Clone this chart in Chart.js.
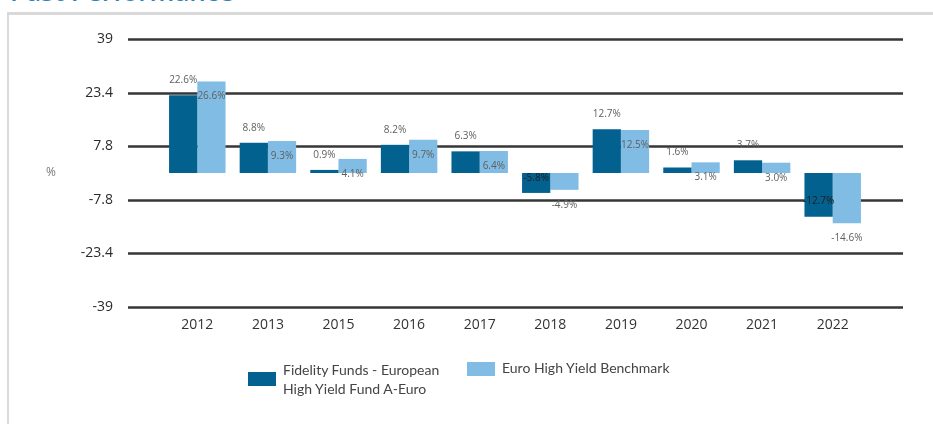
<!DOCTYPE html>
<html>
<head>
<meta charset="utf-8">
<script src="https://cdn.jsdelivr.net/npm/chart.js@4.4.0/dist/chart.umd.min.js"></script>
<style>
    html, body { margin: 0; padding: 0; background: #fff; }
    #wrap { position: relative; width: 933px; height: 424px; overflow: hidden; }
    #judul { position: absolute; left: 10px; top: -22px; font: 600 26px "Open Sans", sans-serif; color: #2a82bd; line-height: 26px; }
    #panel { position: absolute; left: 7px; top: 12px; right: 0; bottom: 0; border-top: 3px solid #d9d9d9; border-left: 2px solid #d9d9d9; }
    #persen { position: absolute; left: 46px; top: 163px; font: 12px "Open Sans", sans-serif; color: #777; }
    #legenda { position: absolute; top: 0; left: 0; font: 14px "Lato", sans-serif; color: #444; }
    .item { position: absolute; display: flex; align-items: center; }
    .kotak { width: 28px; height: 14px; margin-right: 7px; flex: none; }
    .teks { line-height: 19px; flex: none; }
</style>
</head>
<body>
<div id="wrap">
    <div id="judul">Past Performance</div>
    <div id="panel"></div>
    <canvas id="grafik" width="933" height="424" style="position:absolute;left:0;top:0;"></canvas>
    <div id="persen">%</div>
    <div id="legenda"></div>
</div>
<script>
// ======= Data =======
const tahun = ['2012', '2013', '2015', '2016', '2017', '2018', '2019', '2020', '2021', '2022'];
const nilaiFund = [22.6, 8.8, 0.9, 8.2, 6.3, -5.8, 12.7, 1.6, 3.7, -12.7];
const nilaiBenchmark = [26.6, 9.3, 4.1, 9.7, 6.4, -4.9, 12.5, 3.1, 3.0, -14.6];
const tickY = [-39, -23.4, -7.8, 7.8, 23.4, 39];

const namaFund = 'Fidelity Funds - European High Yield Fund A-Euro';
const namaBenchmark = 'Euro High Yield Benchmark';
const warnaFund = '#03618f';
const warnaBenchmark = '#80bce3';

// ======= Garis grid lebar (melewati area chart) =======
const gridPlugin = {
    id: 'gridLebar',
    beforeDatasetsDraw(chart) {
        const ctx = chart.ctx;
        const area = chart.chartArea;
        const y = chart.scales.y;
        ctx.save();
        ctx.strokeStyle = '#363636';
        ctx.lineWidth = 2.6;
        y.ticks.forEach((t) => {
            const py = Math.round(y.getPixelForValue(t.value)) + 0.5;
            ctx.beginPath();
            ctx.moveTo(area.left - 34, py);
            ctx.lineTo(area.right + 35, py);
            ctx.stroke();
        });
        ctx.restore();
    }
};

// ======= Label nilai di atas/bawah batang =======
const labelPlugin = {
    id: 'labelNilai',
    afterDatasetsDraw(chart) {
        const ctx = chart.ctx;
        ctx.save();
        ctx.font = '10px "Open Sans", sans-serif';
        ctx.textAlign = 'center';
        ctx.textBaseline = 'middle';
        chart.data.datasets.forEach((ds, di) => {
            const meta = chart.getDatasetMeta(di);
            meta.data.forEach((bar, i) => {
                const geser = di === 0 ? -15 : 15;
                // label fund negatif jatuh di dalam batang gelap
                ctx.fillStyle = (di === 0 && ds.data[i] < 0) ? '#1e1e1e' : '#606060';
                ctx.fillText(ds.data[i].toFixed(1) + '%', bar.x, bar.y + geser);
            });
        });
        ctx.restore();
    }
};

const chart = new Chart(document.getElementById('grafik').getContext('2d'), {
    type: 'bar',
    data: {
        labels: tahun,
        datasets: [
            { label: namaFund, data: nilaiFund, backgroundColor: warnaFund },
            { label: namaBenchmark, data: nilaiBenchmark, backgroundColor: warnaBenchmark }
        ]
    },
    options: {
        responsive: false,
        animation: false,
        events: [],
        layout: { padding: { left: 0, right: 65, top: 39, bottom: 87 } },
        datasets: { bar: { categoryPercentage: 0.8, barPercentage: 1.0 } },
        plugins: {
            legend: { display: false },
            tooltip: { enabled: false }
        },
        scales: {
            x: {
                grid: { display: false, drawTicks: false },
                border: { display: false },
                ticks: { padding: 10, color: '#333', font: { family: '"Open Sans", sans-serif', size: 14 } },
                afterFit(scale) { scale.height = 30; }
            },
            y: {
                min: -39,
                max: 39,
                grid: { display: false, drawTicks: false },
                border: { display: false },
                afterBuildTicks(scale) { scale.ticks = tickY.map(v => ({ value: v })); },
                ticks: {
                    padding: 49,
                    color: '#2b2b2b',
                    font: { family: '"Open Sans", sans-serif', size: 14 },
                    callback: (v) => String(v)
                },
                afterFit(scale) {
                    scale.width = 162;
                    // padding label jangan ikut menggeser area chart
                    scale.paddingTop = 0;
                    scale.paddingBottom = 0;
                }
            }
        }
    },
    plugins: [gridPlugin, labelPlugin]
});

// ======= Legenda HTML =======
const posisiLegenda = [{ left: 248, top: 360, lebar: 172 }, { left: 467, top: 358, lebar: 200 }];
const legendaEl = document.getElementById('legenda');
chart.data.datasets.forEach((ds, i) => {
    const item = document.createElement('div');
    item.className = 'item';
    item.style.left = posisiLegenda[i].left + 'px';
    item.style.top = posisiLegenda[i].top + 'px';
    if (i === 1) item.style.alignItems = 'flex-start';
    const kotak = document.createElement('div');
    kotak.className = 'kotak';
    kotak.style.background = ds.backgroundColor;
    if (i === 1) kotak.style.marginTop = '4px';
    const teks = document.createElement('div');
    teks.className = 'teks';
    teks.style.width = posisiLegenda[i].lebar + 'px';
    teks.innerText = ds.label;
    item.appendChild(kotak);
    item.appendChild(teks);
    legendaEl.appendChild(item);
});
</script>
</body>
</html>
